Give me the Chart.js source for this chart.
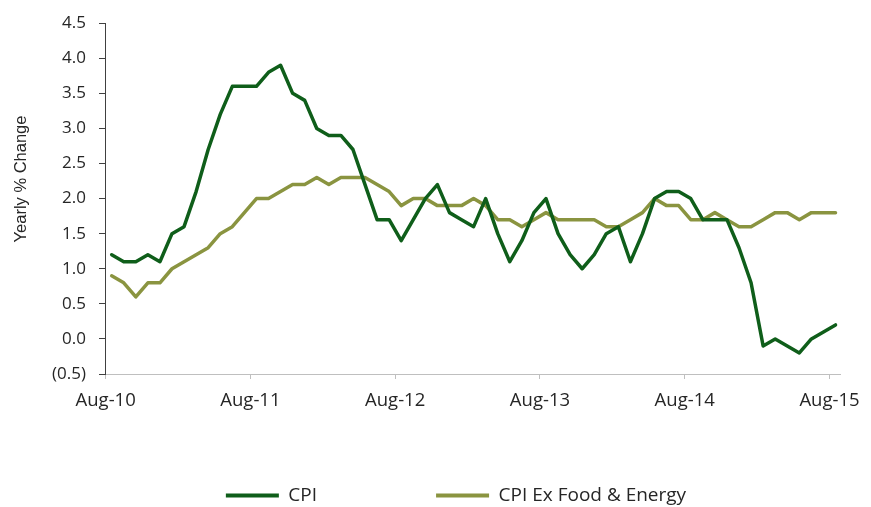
<!DOCTYPE html>
<html>
<head>
<meta charset="utf-8">
<script src="https://cdn.jsdelivr.net/npm/chart.js@4.4.1/dist/chart.umd.min.js"></script>
<style>
html,body{margin:0;padding:0;background:#ffffff;}
#wrap{position:relative;width:871px;height:507px;}
</style>
</head>
<body>
<div id="wrap"><canvas id="c" width="871" height="507"></canvas></div>
<script>
// ---- data ----
const months = [
  'Aug-10','Sep-10','Oct-10','Nov-10','Dec-10','Jan-11','Feb-11','Mar-11','Apr-11','May-11','Jun-11','Jul-11',
  'Aug-11','Sep-11','Oct-11','Nov-11','Dec-11','Jan-12','Feb-12','Mar-12','Apr-12','May-12','Jun-12','Jul-12',
  'Aug-12','Sep-12','Oct-12','Nov-12','Dec-12','Jan-13','Feb-13','Mar-13','Apr-13','May-13','Jun-13','Jul-13',
  'Aug-13','Sep-13','Oct-13','Nov-13','Dec-13','Jan-14','Feb-14','Mar-14','Apr-14','May-14','Jun-14','Jul-14',
  'Aug-14','Sep-14','Oct-14','Nov-14','Dec-14','Jan-15','Feb-15','Mar-15','Apr-15','May-15','Jun-15','Jul-15',
  'Aug-15'
];
const cpi = [
  1.2,1.1,1.1,1.2,1.1,1.5,1.6,2.1,2.7,3.2,3.6,3.6,
  3.6,3.8,3.9,3.5,3.4,3.0,2.9,2.9,2.7,2.2,1.7,1.7,
  1.4,1.7,2.0,2.2,1.8,1.7,1.6,2.0,1.5,1.1,1.4,1.8,
  2.0,1.5,1.2,1.0,1.2,1.5,1.6,1.1,1.5,2.0,2.1,2.1,
  2.0,1.7,1.7,1.7,1.3,0.8,-0.1,0.0,-0.1,-0.2,0.0,0.1,
  0.2
];
const coreCpi = [
  0.9,0.8,0.6,0.8,0.8,1.0,1.1,1.2,1.3,1.5,1.6,1.8,
  2.0,2.0,2.1,2.2,2.2,2.3,2.2,2.3,2.3,2.3,2.2,2.1,
  1.9,2.0,2.0,1.9,1.9,1.9,2.0,1.9,1.7,1.7,1.6,1.7,
  1.8,1.7,1.7,1.7,1.7,1.6,1.6,1.7,1.8,2.0,1.9,1.9,
  1.7,1.7,1.8,1.7,1.6,1.6,1.7,1.8,1.8,1.7,1.8,1.8,
  1.8
];
const seriesNames = ['CPI', 'CPI Ex Food & Energy'];
const xTickLabels = ['Aug-10','Aug-11','Aug-12','Aug-13','Aug-14','Aug-15'];
const xTickPositions = [-0.5, 11.5, 23.5, 35.5, 47.5, 59.5];
const yAxisTitle = 'Yearly % Change';

// ---- chart ----
const toPoints = arr => arr.map((v, i) => ({x: i, y: v}));

const yTitlePlugin = {
  id: 'yTitle',
  afterDraw(chart) {
    const ctx = chart.ctx;
    ctx.save();
    ctx.translate(21, 179);
    ctx.rotate(-Math.PI / 2);
    ctx.font = '16.5px "Liberation Sans", Arial, sans-serif';
    ctx.fillStyle = '#262626';
    ctx.textAlign = 'center';
    ctx.textBaseline = 'middle';
    ctx.fillText(yAxisTitle, 0, 0);
    ctx.restore();
  }
};

const legendPlacePlugin = {
  id: 'legendPlace',
  afterLayout(chart) {
    const lg = chart.legend;
    if (lg) { lg.top = 367; lg.bottom = 507; lg.left = 55; lg.right = 857; }
  }
};

new Chart(document.getElementById('c'), {
  type: 'line',
  data: {
    datasets: [
      {
        label: seriesNames[0],
        data: toPoints(cpi),
        borderColor: '#0f5e1a',
        backgroundColor: '#0f5e1a',
        borderWidth: 3.5,
        pointRadius: 0,
        tension: 0,
        borderJoinStyle: 'round',
        borderCapStyle: 'round'
      },
      {
        label: seriesNames[1],
        data: toPoints(coreCpi),
        borderColor: '#8a9440',
        backgroundColor: '#8a9440',
        borderWidth: 3.5,
        pointRadius: 0,
        tension: 0,
        borderJoinStyle: 'round',
        borderCapStyle: 'round'
      }
    ]
  },
  options: {
    responsive: false,
    animation: false,
    devicePixelRatio: 1,
    layout: {padding: {left: 41, right: 28, top: 16, bottom: 0}},
    plugins: {
      tooltip: {enabled: false},
      legend: {
        display: true,
        position: 'bottom',
        maxHeight: 20,
        labels: {
          boxWidth: 53,
          boxHeight: 4,
          padding: 119,
          color: '#262626',
          font: {family: '"Open Sans", sans-serif', size: 19},
          generateLabels: (chart) => Chart.defaults.plugins.legend.labels.generateLabels(chart)
            .map(l => Object.assign({}, l, {lineWidth: 0, fillStyle: l.strokeStyle}))
        }
      }
    },
    scales: {
      x: {
        type: 'linear',
        min: -0.553,
        max: 60.41,
        afterBuildTicks: (s) => { s.ticks = xTickPositions.map(v => ({value: v})); },
        afterFit: (s) => { s.height = 113; },
        ticks: {
          autoSkip: false,
          maxRotation: 0,
          padding: 11,
          color: '#262626',
          font: {family: '"Open Sans", sans-serif', size: 18.5},
          callback: (v, i) => xTickLabels[i]
        },
        grid: {drawOnChartArea: false, drawTicks: true, tickLength: 5, color: '#bfbfbf'},
        border: {display: true, color: '#bfbfbf', width: 1}
      },
      y: {
        min: -0.5,
        max: 4.5,
        afterFit: (s) => { s.width = 64; },
        ticks: {
          stepSize: 0.5,
          padding: 13,
          color: '#262626',
          font: {family: '"Open Sans", sans-serif', size: 17},
          callback: (v) => v < 0 ? '(' + Math.abs(v).toFixed(1) + ')' : v.toFixed(1)
        },
        grid: {drawOnChartArea: false, drawTicks: true, tickLength: 6, color: '#404040'},
        border: {display: true, color: '#404040', width: 1}
      }
    }
  },
  plugins: [yTitlePlugin, legendPlacePlugin]
});
</script>
</body>
</html>
